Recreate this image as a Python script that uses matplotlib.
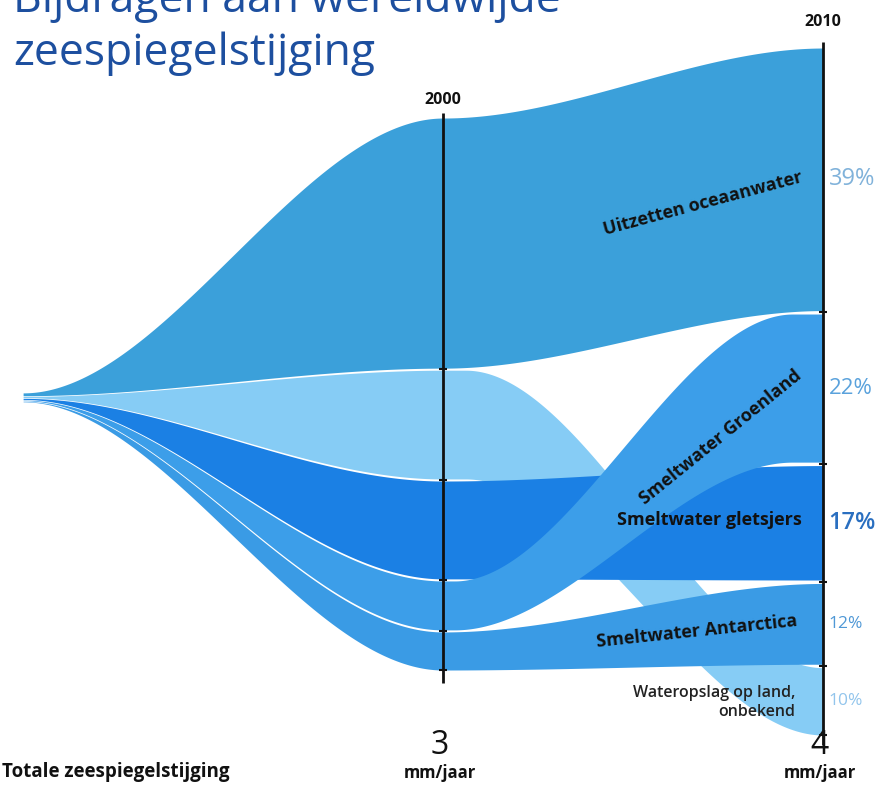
import numpy as np
import matplotlib.pyplot as plt

plt.rcParams['font.family'] = ['Open Sans', 'DejaVu Sans']

# ---- data ----
bands = ["Uitzetten oceaanwater", "Wateropslag op land,\nonbekend", "Smeltwater gletsjers",
         "Smeltwater Groenland", "Smeltwater Antarctica"]
share_2000 = [46, 20, 18, 9, 7]       # % of total
share_2010 = [39, 10, 17, 22, 12]     # % of total, 2010 labels
order_2000 = [0, 1, 2, 3, 4]          # stacking top -> bottom
order_2010 = [0, 3, 2, 4, 1]
years = [2000, 2010]
total_mm = [3, 4]
pct_labels = ["39%", "10%", "17%", "22%", "12%"]

# ---- style / layout ----
colors = ['#3ba0da', '#86ccf5', '#1b80e4', '#3c9ee9', '#3a9be5']
draw_order = [0, 1, 2, 4, 3]
pct_colors = ['#80b2da', '#92c5ec', '#2a6fc0', '#5aa2dc', '#4f98d6']
pct_sizes = [17, 12.5, 17, 16, 12.5]
x_origin = 1988.95
span_origin = (48.5, 49.8)
span_cols = [(9.46, 89.81), (0.0, 100.0)]
gaps = [0.3, 0.5]
gap_origin = 0.1
right_window = [(2000, 2010), (2000.6, 2010), (2000, 2010), (2000.3, 2009.2), (2000, 2010)]


def stack(shares, order, span, gap):
    lo, hi = span
    usable = (hi - lo) - gap * (len(order) - 1)
    tops, bots = {}, {}
    y = hi
    for k in order:
        h = usable * shares[k] / 100.0
        tops[k], bots[k] = y, y - h
        y = y - h - gap
    return tops, bots


def ease(t):
    t = np.clip(t, 0, 1)
    return t * t * (3 - 2 * t)


t0, b0 = stack(share_2000, order_2000, span_origin, gap_origin)
t1, b1 = stack(share_2000, order_2000, span_cols[0], gaps[0])
t2, b2 = stack(share_2010, order_2010, span_cols[1], gaps[1])

fig = plt.figure(figsize=(8.78, 7.87), dpi=100)
ax = fig.add_axes([0, 0, 1, 1])
ax.set_xlim(1988.342, 2011.447)
ax.set_ylim(-7.57, 106.99)
ax.axis('off')

xl = np.linspace(x_origin, years[0], 200)
xr = np.linspace(years[0], years[1], 300)
x = np.concatenate([xl, xr[1:]])

for k in draw_order:
    w0, w1 = right_window[k]
    sl = ease((xl - x_origin) / (years[0] - x_origin))
    sr = ease((xr[1:] - w0) / (w1 - w0))
    top = np.concatenate([t0[k] + (t1[k] - t0[k]) * sl, t1[k] + (t2[k] - t1[k]) * sr])
    bot = np.concatenate([b0[k] + (b1[k] - b0[k]) * sl, b1[k] + (b2[k] - b1[k]) * sr])
    ax.fill_between(x, bot, top, color=colors[k], lw=0, zorder=2)

# column axes with small ticks at band borders
ax.vlines(years[0], span_cols[0][0] - 1.9, span_cols[0][1] + 0.7, color='#111111', lw=2, zorder=5)
ax.vlines(years[1], span_cols[1][0] - 1.5, span_cols[1][1] + 0.9, color='#111111', lw=2, zorder=5)
for yr, bots, order, g in [(years[0], b1, order_2000, gaps[0]), (years[1], b2, order_2010, gaps[1])]:
    for k in order[:-1]:
        ax.hlines(bots[k] - g / 2, yr - 0.1, yr + 0.1, color='#111111', lw=1.5, zorder=5)
    ax.hlines(bots[order[-1]], yr - 0.1, yr + 0.1, color='#111111', lw=1.5, zorder=5)

ax.text(years[0], span_cols[0][1] + 1.4, str(years[0]), ha='center', va='bottom',
        fontsize=11.5, fontweight='bold', color='#111111')
ax.text(years[1], span_cols[1][1] + 2.6, str(years[1]), ha='center', va='bottom',
        fontsize=11.5, fontweight='bold', color='#111111')

# band labels
lab = dict(fontsize=13, fontweight='bold', color='#111111', zorder=6)
ax.text(2006.84, 77.4, bands[0], ha='center', va='center', rotation=15, **lab)
ax.text(2007.3, 43.4, bands[3], ha='center', va='center', rotation=39, **lab)
ax.text(2009.45, 31.3, bands[2], ha='right', va='center', **lab)
ax.text(2006.68, 15.1, bands[4], ha='center', va='center', rotation=6, **lab)
ax.text(2009.26, 4.7, bands[1], ha='right', va='center', multialignment='right',
        fontsize=11.5, fontweight='semibold', color='#222222', linespacing=1.25, zorder=6)

# percentages at 2010
for k in order_2010:
    yc = (t2[k] + b2[k]) / 2
    ax.text(years[1] + 0.15, yc, pct_labels[k], ha='left', va='center',
            fontsize=pct_sizes[k], color=pct_colors[k],
            fontweight='semibold' if k == 2 else 'normal')

# totals
for yr, mm in zip(years, total_mm):
    ax.text(yr - 0.08, -1.6, str(mm), ha='center', va='center', fontsize=23, color='#111111')
    ax.text(yr - 0.08, -5.5, 'mm/jaar', ha='center', va='center', fontsize=12,
            fontweight='bold', color='#111111')
ax.text(x_origin - 0.55, -5.4, 'Totale zeespiegelstijging', ha='left', va='center',
        fontsize=13.5, fontweight='bold', color='#111111')

# title (first line runs off the top edge)
fig.text(13 / 878, 1 - 12 / 787, 'Bijdragen aan wereldwijde', ha='left', va='baseline',
         fontsize=32, color='#1d4f9f')
fig.text(13 / 878, 1 - 65 / 787, 'zeespiegelstijging', ha='left', va='baseline',
         fontsize=32, color='#1d4f9f')

fig.savefig('out.png', dpi=100, facecolor='white')
